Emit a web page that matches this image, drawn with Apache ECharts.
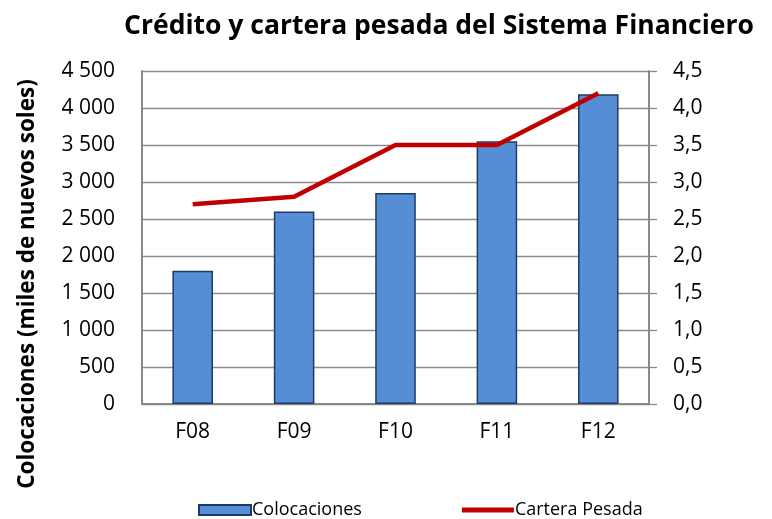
<!DOCTYPE html>
<html><head><meta charset="utf-8">
<script src="https://cdn.jsdelivr.net/npm/echarts@6/dist/echarts.min.js"></script>
<style>html,body{margin:0;padding:0;background:#fff}#c{width:772px;height:519px}</style>
</head><body><div id="c"></div>
<script>
const categories = ['F08','F09','F10','F11','F12'];
const colocaciones = [1800, 2600, 2850, 3550, 4185];
const carteraPesada = [2.7, 2.8, 3.5, 3.5, 4.2];
const yAxisTitle = 'Colocaciones (miles de nuevos soles)';
const FONT = '"Open Sans", "Noto Sans", sans-serif';
const chart = echarts.init(document.getElementById('c'));
chart.setOption({
  animation: false,
  textStyle: {fontFamily: FONT},
  title: {text: 'Crédito y cartera pesada del Sistema Financiero', left: 434, top: 8, textAlign: 'center',
    textStyle: {fontFamily: FONT, fontWeight: 'bold', fontSize: 26.5, color: '#000'}},
  grid: {left: 142, right: 123, top: 71, bottom: 115},
  graphic: [{type: 'text', x: 28, y: 284, rotation: Math.PI / 2,
    style: {text: yAxisTitle, fontFamily: FONT, fontWeight: 'bold', fontSize: 22.5, fill: '#000',
      textAlign: 'center', textVerticalAlign: 'middle'}}],
  legend: {top: 496, left: 193, itemGap: 100, itemWidth: 52, itemHeight: 10,
    textStyle: {fontFamily: FONT, fontSize: 18, color: '#000', padding: [0,0,0,-4]},
    data: [{name: 'Colocaciones', icon: 'rect'}, {name: 'Cartera Pesada', icon: 'path://M0,0 L52,0 L52,5 L0,5 Z'}]},
  xAxis: {type: 'category', data: categories,
    axisLine: {lineStyle: {color: '#898989', width: 2}}, axisTick: {show: false},
    axisLabel: {fontFamily: FONT, fontSize: 21, color: '#000', margin: 18}},
  yAxis: [
    {type: 'value', min: 0, max: 4500, interval: 500,
     axisLine: {show: true, lineStyle: {color: '#898989', width: 2}}, axisTick: {show: false},
     splitLine: {lineStyle: {color: '#8c8c8c', width: 1.3}},
     axisLabel: {fontFamily: FONT, fontSize: 21, color: '#000', margin: 27,
       formatter: v => String(v).replace(/\B(?=(\d{3})+(?!\d))/g, ' ')}},
    {type: 'value', min: 0, max: 4.5, interval: 0.5, position: 'right',
     axisLine: {show: true, lineStyle: {color: '#898989', width: 2}},
     axisTick: {show: true, length: 8, lineStyle: {color: '#898989', width: 1.3}},
     splitLine: {show: false},
     axisLabel: {fontFamily: FONT, fontSize: 21, color: '#000', margin: 24,
       formatter: v => v.toFixed(1).replace('.', ',')}}
  ],
  series: [
    {name: 'Colocaciones', type: 'bar', data: colocaciones, barWidth: '40%',
     itemStyle: {color: '#558ed5', borderColor: '#1f3b63', borderWidth: 1.5}},
    {name: 'Cartera Pesada', type: 'line', yAxisIndex: 1, data: carteraPesada,
     symbol: 'none', lineStyle: {color: '#c00000', width: 4.5}, itemStyle: {color: '#c00000'}}
  ]
});
</script></body></html>
